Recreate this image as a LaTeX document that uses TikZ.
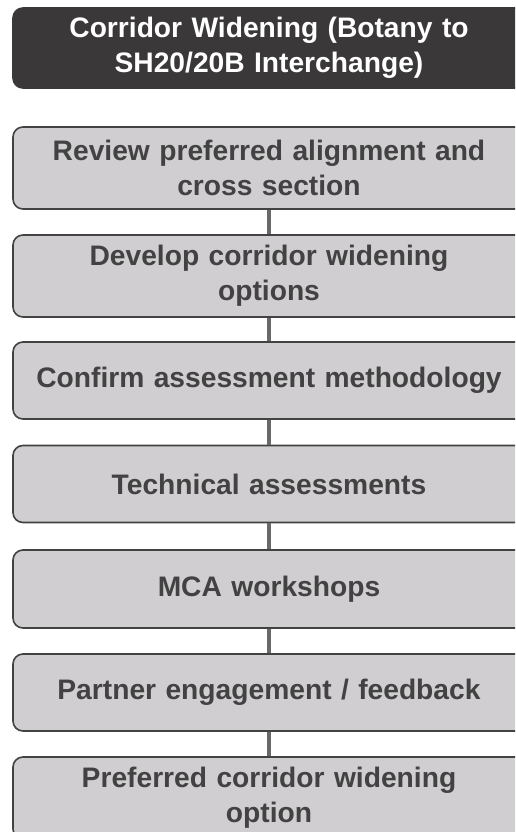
\documentclass[tikz,border=0pt]{standalone}
\usepackage{fontspec}
\setmainfont{Liberation Sans}
\usepackage{xcolor}
\definecolor{headgrey}{RGB}{58, 56, 56}
\definecolor{stepgrey}{RGB}{208, 206, 208}
\definecolor{edgegrey}{RGB}{66, 66, 66}
\definecolor{linkgrey}{RGB}{105, 105, 105}
\usepackage{tikz}
\usetikzlibrary{positioning,calc}

\tikzset{
  stepbox/.style = {draw = edgegrey, line width = 1.6pt, fill = stepgrey, rounded corners = 10pt,
    minimum width = 512pt, text width = 500pt, align = center, inner sep = 0pt,
    font = {\fontsize{28.2}{35}\selectfont\bfseries}, text = edgegrey},
  headbox/.style = {stepbox, draw = headgrey, fill = headgrey, text = white},
  link/.style = {draw = linkgrey, line width = 4pt}
}

\begin{document}
\begin{tikzpicture}[x = 1pt, y = -1pt]
\useasboundingbox (0,0) rectangle (515,832);
\clip (0,0) rectangle (515,832);
\node[headbox, minimum height = 80pt] (head) at (269,48) {Corridor Widening (Botany to\\SH20/20B Interchange)};
\node[stepbox, minimum height = 82pt] (review) at (269,168) {Review preferred alignment and\\cross section};
\node[stepbox, minimum height = 82pt] (develop) at (269,276) {Develop corridor widening\\options};
\node[stepbox, minimum height = 77pt] (confirm) at (269,380.5) {Confirm assessment methodology};
\node[stepbox, minimum height = 77pt] (tech) at (269,484) {Technical assessments};
\node[stepbox, minimum height = 78pt] (mca) at (269,589) {MCA workshops};
\node[stepbox, minimum height = 77pt] (partner) at (269,692.5) {Partner engagement / feedback};
\node[stepbox, minimum height = 82pt] (preferred) at (269,798) {Preferred corridor widening\\option};
% links between steps
\draw[link] (review) -- (develop);
\draw[link] (develop) -- (confirm);
\draw[link] (confirm) -- (tech);
\draw[link] (tech) -- (mca);
\draw[link] (mca) -- (partner);
\draw[link] (partner) -- (preferred);
\end{tikzpicture}
\end{document}
